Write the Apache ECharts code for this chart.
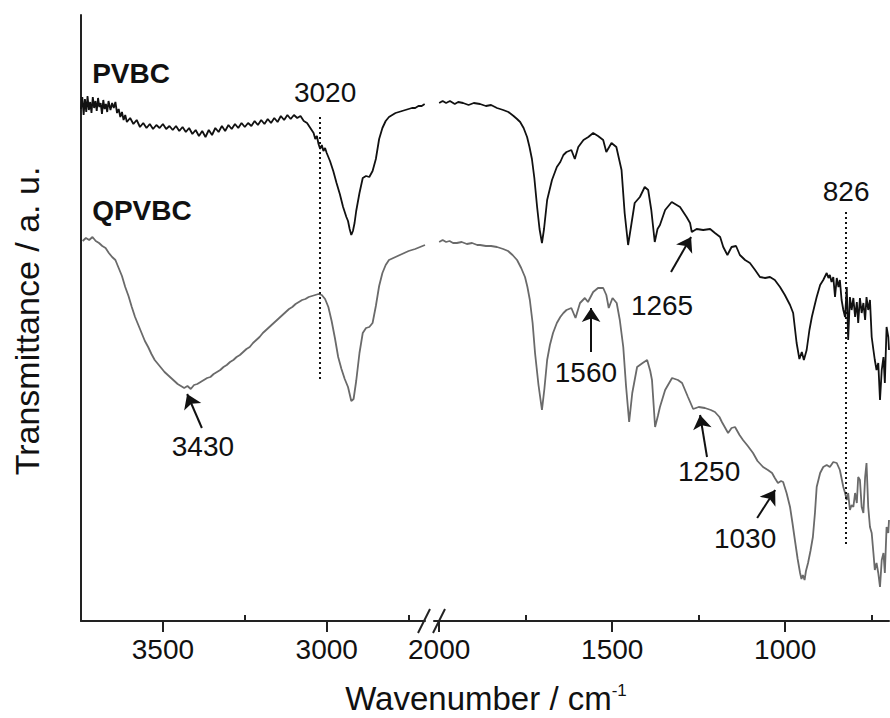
<!DOCTYPE html>
<html><head><meta charset="utf-8">
<script src="https://cdn.jsdelivr.net/npm/echarts@6/dist/echarts.min.js"></script>
<style>html,body{margin:0;padding:0;background:#fff}#c{width:890px;height:718px}</style>
</head><body><div id="c"></div>
<script>
// ---- data (wavenumber cm-1, transmittance in arbitrary offset units) ----
const pvbcHigh = [[3750,512],[3746,524],[3742,506],[3738,522],[3734,509],[3730,525],[3726,511],[3722,519],[3718,508],[3714,524],[3710,513],[3706,520],[3702,510],[3698,523],[3694,514],[3690,518],[3686,507],[3682,521],[3678,512],[3674,517],[3670,509],[3666,520],[3660,511],[3655,518],[3650,513],[3645,519],[3640,508],[3635,512],[3630,504],[3625,509],[3620,501],[3615,506],[3610,499],[3600,503],[3590,497],[3580,501],[3570,494],[3560,498],[3550,493],[3540,497],[3530,492],[3520,496],[3510,493],[3500,497],[3490,492],[3480,495],[3470,491],[3460,495],[3450,490],[3440,494],[3430,489],[3420,493],[3410,487],[3400,491],[3390,485],[3380,490],[3370,484],[3360,491],[3350,486],[3340,493],[3330,489],[3320,495],[3310,490],[3300,496],[3290,492],[3280,497],[3270,493],[3260,498],[3250,494],[3240,498],[3230,495],[3220,500],[3210,496],[3200,501],[3190,497],[3180,502],[3170,498],[3160,503],[3150,499],[3140,505],[3130,501],[3120,506],[3110,502],[3100,506],[3090,503],[3080,505],[3070,500],[3060,498],[3050,493],[3040,488],[3035,482],[3030,485],[3025,477],[3020,472],[3015,476],[3010,470],[3005,473],[3000,468],[2990,460],[2980,450],[2970,438],[2960,427],[2950,414],[2940,404],[2935,400],[2930,392],[2925,386],[2920,390],[2915,398],[2910,410],[2900,428],[2890,443],[2880,445],[2870,444],[2860,450],[2850,462],[2840,482],[2830,493],[2820,500],[2810,504],[2800,506],[2790,508],[2780,509],[2770,510],[2760,511],[2750,512],[2740,513],[2730,513],[2720,515],[2710,515],[2701,517]];

const qpvbcHigh = [[3745,380],[3735,383],[3725,381],[3715,384],[3705,380],[3695,378],[3685,375],[3675,373],[3665,368],[3655,364],[3645,361],[3635,353],[3625,345],[3615,334],[3605,325],[3595,314],[3585,304],[3575,296],[3565,288],[3555,280],[3545,274],[3535,267],[3525,261],[3515,257],[3505,253],[3495,249],[3485,246],[3475,243],[3465,240],[3455,237],[3445,235],[3435,233],[3425,235],[3415,232],[3405,236],[3395,237],[3385,239],[3375,241],[3365,243],[3355,244],[3345,247],[3335,249],[3325,251],[3315,254],[3305,256],[3295,259],[3285,261],[3275,264],[3265,266],[3255,269],[3245,272],[3235,274],[3225,278],[3215,281],[3205,284],[3195,288],[3185,291],[3175,294],[3165,297],[3155,300],[3145,303],[3135,306],[3125,309],[3115,312],[3105,314],[3095,317],[3085,319],[3075,321],[3065,322],[3055,324],[3045,325],[3035,326],[3025,327],[3015,326],[3005,322],[2995,314],[2985,300],[2975,283],[2965,264],[2955,252],[2945,242],[2935,234],[2925,220],[2918,222],[2910,240],[2900,268],[2890,288],[2880,293],[2870,294],[2860,298],[2850,315],[2840,335],[2830,348],[2820,356],[2810,361],[2790,364],[2770,367],[2750,370],[2730,372],[2715,374],[2700,376]];

const pvbcLow = [[2000,518],[1990,520],[1980,518],[1969,520],[1955,517],[1945,519],[1931,518],[1915,516],[1900,518],[1882,517],[1865,515],[1850,516],[1833,513],[1815,511],[1800,509],[1785,505],[1775,502],[1766,499],[1756,493],[1746,484],[1739,474],[1732,462],[1725,443],[1717,414],[1710,392],[1703,378],[1697,392],[1688,421],[1674,441],[1660,454],[1650,459],[1641,466],[1632,469],[1618,471],[1608,462],[1598,474],[1583,481],[1569,484],[1555,488],[1541,485],[1526,481],[1517,469],[1502,478],[1488,474],[1473,451],[1464,408],[1454,376],[1444,398],[1435,418],[1420,424],[1406,434],[1396,431],[1387,411],[1377,379],[1369,392],[1362,396],[1347,411],[1328,419],[1304,414],[1285,404],[1275,398],[1270,389],[1256,392],[1237,391],[1217,392],[1203,388],[1188,384],[1179,374],[1167,366],[1155,374],[1142,375],[1131,366],[1116,361],[1102,358],[1087,351],[1073,344],[1058,343],[1044,344],[1030,341],[1015,334],[1001,326],[986,316],[977,308],[967,278],[959,262],[952,269],[946,261],[938,271],[930,291],[923,304],[914,317],[909,324],[899,336],[890,341],[880,348],[875,343],[871,346],[866,339],[861,344],[856,324],[851,343],[846,334],[842,341],[837,321],[832,311],[827,304],[822,334],[818,281],[813,324],[808,311],[803,323],[798,304],[793,319],[789,298],[784,323],[779,308],[774,318],[769,301],[765,324],[760,311],[755,321],[750,284],[745,271],[741,261],[736,251],[731,258],[726,221],[721,251],[716,264],[712,238],[707,294],[702,284],[700,271]];

const qpvbcLow = [[2000,379],[1990,381],[1980,379],[1970,380],[1960,378],[1949,378],[1935,379],[1920,377],[1905,378],[1890,376],[1882,376],[1865,375],[1850,375],[1833,374],[1815,372],[1801,370],[1788,366],[1775,361],[1763,353],[1752,344],[1745,334],[1738,321],[1730,298],[1723,268],[1713,236],[1703,211],[1696,232],[1688,261],[1680,276],[1671,288],[1660,298],[1650,304],[1641,308],[1632,311],[1618,313],[1606,303],[1593,318],[1579,323],[1570,319],[1555,329],[1541,333],[1526,333],[1517,326],[1510,313],[1499,323],[1487,318],[1478,301],[1468,274],[1460,235],[1451,199],[1442,228],[1428,254],[1412,258],[1399,261],[1390,250],[1385,241],[1376,194],[1368,205],[1362,214],[1347,231],[1327,243],[1310,241],[1298,238],[1281,224],[1266,212],[1250,214],[1232,213],[1215,211],[1203,209],[1190,204],[1183,199],[1165,188],[1155,193],[1145,194],[1132,186],[1122,181],[1108,175],[1093,168],[1080,160],[1064,154],[1050,151],[1038,148],[1030,143],[1021,138],[1012,140],[1006,139],[996,128],[986,114],[979,98],[972,81],[964,62],[957,48],[953,42],[949,46],[944,41],[940,50],[934,58],[927,70],[920,84],[914,108],[909,134],[899,148],[890,154],[880,156],[871,154],[861,159],[851,158],[842,151],[832,134],[827,128],[822,121],[818,128],[813,111],[808,116],[803,114],[798,128],[793,118],[789,144],[784,141],[779,114],[774,108],[769,144],[765,158],[760,114],[755,94],[750,88],[745,68],[741,51],[736,58],[731,48],[726,34],[721,61],[716,68],[712,48],[707,94],[702,88],[700,101]];

const ticksHighMajor = [3500, 3000];
const ticksHighMinor = [3250, 2750];
const ticksLowMajor = [2000, 1500, 1000];
const ticksLowMinor = [1750, 1250, 750];
const seriesNames = ['PVBC', 'QPVBC'];

// annotations anchored in data coordinates
const notesHigh = [
  {text: 'PVBC', at: [3716, 548], bold: true, align: 'left'},
  {text: 'QPVBC', at: [3716, 411], bold: true, align: 'left'},
  {text: '3020', at: [3005, 529]},
  {text: '3430', at: [3378, 175]}
];
const arrowsHigh = [[[3381, 193], [3426, 227]]];
const dottedHigh = [[[3020, 504], [3020, 241]]];
const notesLow = [
  {text: '826', at: [824, 430]},
  {text: '1265', at: [1356, 316]},
  {text: '1560', at: [1576, 249]},
  {text: '1250', at: [1220, 150]},
  {text: '1030', at: [1116, 83]}
];
const arrowsLow = [[[1330, 349], [1272, 384]], [[1561, 269], [1561, 313]], [[1226, 164], [1246, 206]], [[1081, 103], [1029, 131]]];
const dottedLow = [[[826, 409], [826, 76]]];

const FONT = '"Liberation Sans", Arial, sans-serif';
const INK = '#111';

function markPts(notes) {
  return {
    silent: true, symbol: 'rect', symbolSize: 1, animation: false,
    itemStyle: {color: 'rgba(0,0,0,0)'},
    data: notes.map(n => ({
      coord: n.at, name: n.text, value: n.text,
      label: {show: true, position: 'inside', formatter: n.text, align: n.align || 'center',
        verticalAlign: 'middle', fontSize: 28, fontFamily: FONT,
        fontWeight: n.bold ? 'bold' : 'normal', color: INK, opacity: 1}
    }))
  };
}
function markLines(arrows, dotted) {
  const data = [];
  arrows.forEach(a => data.push([{coord: a[0], symbol: 'none'}, {coord: a[1], symbol: 'arrow', symbolSize: 14,
    lineStyle: {type: 'solid', width: 2, color: INK}}]));
  dotted.forEach(d => data.push([{coord: d[0], symbol: 'none', lineStyle: {type: [2, 3], width: 2, color: INK}},
    {coord: d[1], symbol: 'none'}]));
  return {silent: true, animation: false, label: {show: false}, symbol: ['none', 'none'],
    lineStyle: {color: INK, width: 2}, emphasis: {disabled: true}, data: data};
}

const plain = v => String(v);
const axisBase = {
  type: 'value', inverse: true, splitLine: {show: false},
  axisLine: {show: true, onZero: false, lineStyle: {color: '#222', width: 2}}
};
const chart = echarts.init(document.getElementById('c'), null, {renderer: 'svg'});
chart.setOption({
  animation: false,
  backgroundColor: '#fff',
  grid: [
    {left: 81, right: 465, top: 15, bottom: 97},
    {left: 434, right: 1, top: 15, bottom: 97}
  ],
  xAxis: [
    Object.assign({}, axisBase, {gridIndex: 0, min: 2700, max: 3750,
      axisTick: {show: true, customValues: ticksHighMajor, length: 11, lineStyle: {color: '#222', width: 2}},
      axisLabel: {show: true, customValues: ticksHighMajor, formatter: plain, fontSize: 28, fontFamily: FONT, color: INK, margin: 14}}),
    Object.assign({}, axisBase, {gridIndex: 0, min: 2700, max: 3750, axisLine: {show: false},
      axisTick: {show: true, customValues: ticksHighMinor, length: 6, lineStyle: {color: '#222', width: 2}},
      axisLabel: {show: false}}),
    Object.assign({}, axisBase, {gridIndex: 1, min: 700, max: 2015,
      axisTick: {show: true, customValues: ticksLowMajor, length: 11, lineStyle: {color: '#222', width: 2}},
      axisLabel: {show: true, customValues: ticksLowMajor, formatter: plain, fontSize: 28, fontFamily: FONT, color: INK, margin: 14}}),
    Object.assign({}, axisBase, {gridIndex: 1, min: 700, max: 2015, axisLine: {show: false},
      axisTick: {show: true, customValues: ticksLowMinor, length: 6, lineStyle: {color: '#222', width: 2}},
      axisLabel: {show: false}})
  ],
  yAxis: [
    {type: 'value', gridIndex: 0, min: 0, max: 606, splitLine: {show: false},
      axisLine: {show: true, lineStyle: {color: '#222', width: 2}}, axisTick: {show: false}, axisLabel: {show: false}},
    {type: 'value', gridIndex: 1, min: 0, max: 606, show: false}
  ],
  series: [
    {name: seriesNames[0], type: 'line', xAxisIndex: 0, yAxisIndex: 0, data: pvbcHigh, showSymbol: false,
      lineStyle: {color: '#111', width: 1.8}, itemStyle: {color: '#111'},
      markPoint: markPts(notesHigh), markLine: markLines(arrowsHigh, dottedHigh)},
    {name: seriesNames[1], type: 'line', xAxisIndex: 0, yAxisIndex: 0, data: qpvbcHigh, showSymbol: false,
      lineStyle: {color: '#6a6a6a', width: 1.8}, itemStyle: {color: '#6a6a6a'}},
    {name: seriesNames[0], type: 'line', xAxisIndex: 2, yAxisIndex: 1, data: pvbcLow, showSymbol: false,
      lineStyle: {color: '#111', width: 1.8}, itemStyle: {color: '#111'},
      markPoint: markPts(notesLow), markLine: markLines(arrowsLow, dottedLow)},
    {name: seriesNames[1], type: 'line', xAxisIndex: 2, yAxisIndex: 1, data: qpvbcLow, showSymbol: false,
      lineStyle: {color: '#6a6a6a', width: 1.8}, itemStyle: {color: '#6a6a6a'}}
  ],
  graphic: [
    {type: 'line', shape: {x1: 418, y1: 633, x2: 430, y2: 609}, style: {stroke: '#222', lineWidth: 2}, silent: true},
    {type: 'line', shape: {x1: 433, y1: 633, x2: 445, y2: 609}, style: {stroke: '#222', lineWidth: 2}, silent: true},
    {type: 'text', x: 27, y: 321, rotation: Math.PI / 2, silent: true,
      style: {text: 'Transmittance / a. u.', fontSize: 34, fontFamily: FONT, fill: INK, align: 'center', verticalAlign: 'middle'}},
    {type: 'text', x: 486, y: 698, silent: true,
      style: {text: '{m|Wavenumber / cm}{s|-1}', align: 'center', verticalAlign: 'middle', fill: INK,
        rich: {m: {fontSize: 33, fontFamily: FONT, fill: INK}, s: {fontSize: 17, fontFamily: FONT, fill: INK, verticalAlign: 'top'}}}}
  ]
});
</script></body></html>
